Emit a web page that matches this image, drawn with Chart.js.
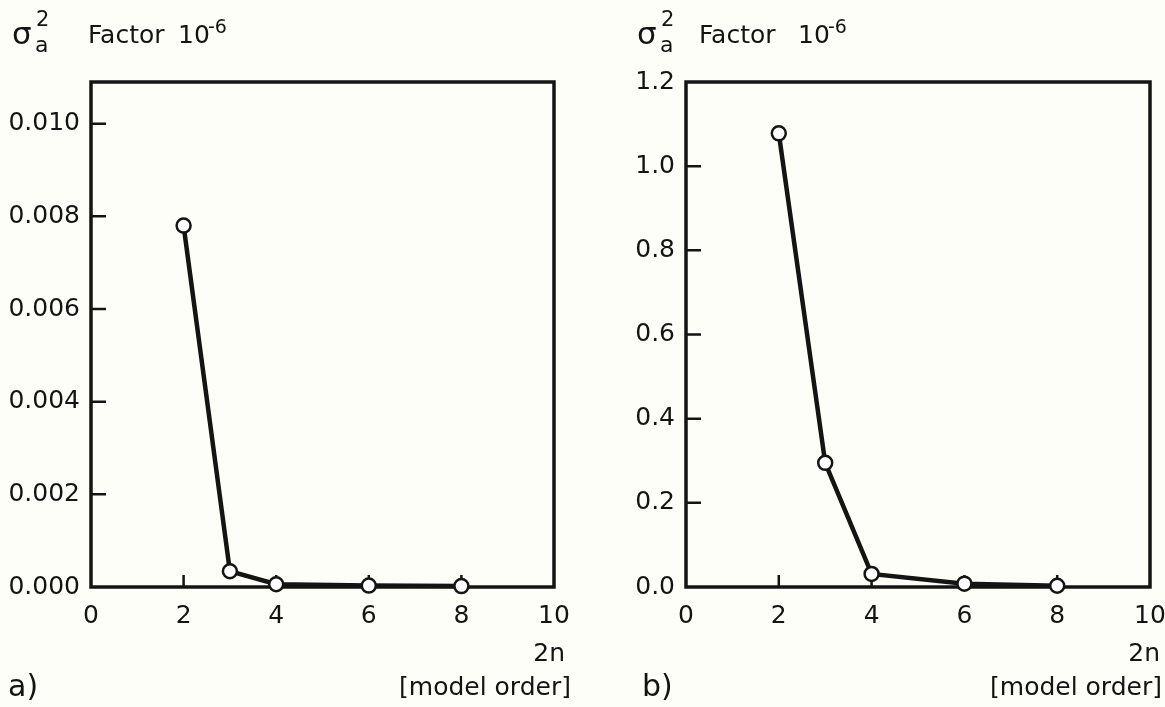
<!DOCTYPE html>
<html>
<head>
<meta charset="utf-8">
<script src="https://cdn.jsdelivr.net/npm/chart.js@4/dist/chart.umd.min.js"></script>
<style>
  html, body { margin: 0; padding: 0; background: #fefef9; }
  #page { position: relative; width: 1165px; height: 707px; overflow: hidden; font-family: "DejaVu Sans", sans-serif; color: #141414; }
  canvas { position: absolute; top: 0; }
  .t { position: absolute; line-height: 1; white-space: nowrap; }
</style>
</head>
<body>
<div id="page">
  <canvas id="chartA" width="580" height="707" style="left:0"></canvas>
  <canvas id="chartB" width="610" height="707" style="left:580px"></canvas>
</div>
<script>
// model order 2n and residual variance (factor 10^-6)
const orders = [2, 3, 4, 6, 8];
const varianceA = [0.0078, 0.00034, 0.00006, 0.00003, 0.00002];
const varianceB = [1.078, 0.295, 0.031, 0.008, 0.003];
const xTicks = [0, 2, 4, 6, 8, 10];
const yTicksA = [0, 0.002, 0.004, 0.006, 0.008, 0.010];
const yTicksB = [0, 0.2, 0.4, 0.6, 0.8, 1.0, 1.2];

const ink = '#141414';
Chart.defaults.font.family = '"DejaVu Sans", sans-serif';
Chart.defaults.font.size = 25;
Chart.defaults.color = ink;

// box round the plot, with short ticks pointing inwards
const frameTicks = {
  id: 'frameTicks',
  beforeDatasetsDraw(chart) {
    const { ctx, chartArea: a, scales: { x, y } } = chart;
    ctx.save();
    ctx.strokeStyle = ink;
    ctx.lineWidth = 3.5;
    ctx.strokeRect(a.left, a.top, a.right - a.left, a.bottom - a.top);
    ctx.lineWidth = 2.5;
    ctx.beginPath();
    x.ticks.forEach(t => {
      if (t.value > x.min && t.value < x.max) {
        const px = x.getPixelForValue(t.value);
        ctx.moveTo(px, a.bottom);
        ctx.lineTo(px, a.bottom - 12);
      }
    });
    y.ticks.forEach(t => {
      if (t.value > y.min && t.value < y.max) {
        const py = y.getPixelForValue(t.value);
        ctx.moveTo(a.left, py);
        ctx.lineTo(a.left + 15, py);
      }
    });
    ctx.stroke();
    ctx.restore();
  }
};

function makeChart(id, values, yMax, yTicks, digits, yWidth, rightPad) {
  return new Chart(document.getElementById(id), {
    type: 'line',
    data: {
      datasets: [{
        data: orders.map((o, i) => ({ x: o, y: values[i] })),
        borderColor: ink,
        borderWidth: 4.5,
        tension: 0,
        pointRadius: 7,
        pointBorderWidth: 2.5,
        pointBackgroundColor: '#ffffff',
        pointBorderColor: ink,
        clip: false
      }]
    },
    options: {
      responsive: false,
      animation: false,
      devicePixelRatio: 1,
      layout: { padding: { left: 0, top: 82, right: rightPad, bottom: 0 } },
      plugins: { legend: { display: false }, tooltip: { enabled: false } },
      scales: {
        x: {
          type: 'linear', min: 0, max: 10,
          afterBuildTicks: s => { s.ticks = xTicks.map(v => ({ value: v })); },
          afterFit: s => { s.height = 120; },
          grid: { display: false },
          border: { display: false },
          ticks: { padding: 6, maxRotation: 0, callback: v => String(v) }
        },
        y: {
          min: 0, max: yMax,
          afterBuildTicks: s => { s.ticks = yTicks.map(v => ({ value: v })); },
          afterFit: s => { s.width = yWidth; },
          grid: { display: false },
          border: { display: false },
          ticks: { padding: 3, callback: v => v.toFixed(digits) }
        }
      }
    },
    plugins: [frameTicks]
  });
}

makeChart('chartA', varianceA, 0.0109, yTicksA, 3, 91, 26);
makeChart('chartB', varianceB, 1.2, yTicksB, 1, 106, 40);

// surrounding texts, placed by baseline
const page = document.getElementById('page');
function label(text, x, baseline, size, alignRight) {
  const d = document.createElement('div');
  d.className = 't';
  d.textContent = text;
  d.style.fontSize = size + 'px';
  d.style.top = (baseline - 0.846 * size) + 'px';
  if (alignRight) d.style.right = (1165 - x) + 'px';
  else d.style.left = x + 'px';
  page.appendChild(d);
}

label('σ', 12, 44, 31);
label('2', 36, 27, 21);
label('a', 35, 53, 22);
label('Factor', 88, 43, 25);
label('10', 178, 43, 25);
label('-6', 208, 33, 19);

label('σ', 637, 44, 31);
label('2', 661, 27, 21);
label('a', 660, 53, 22);
label('Factor', 699, 43, 25);
label('10', 798, 43, 25);
label('-6', 828, 33, 19);

label('2n', 565, 661, 25, true);
label('[model order]', 571, 695, 25, true);
label('a)', 8, 696, 30);

label('2n', 1160, 661, 25, true);
label('[model order]', 1162, 695, 25, true);
label('b)', 642, 696, 30);
</script>
</body>
</html>
